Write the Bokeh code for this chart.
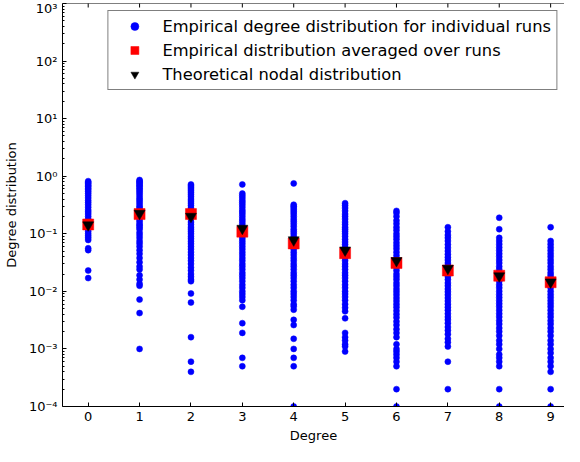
import math
from bokeh.plotting import figure
from bokeh.models import (FixedTicker, CustomJSTickFormatter, Range1d, Legend, LegendItem,
                          ColumnDataSource, Span)
from bokeh.embed import file_html
from bokeh.resources import INLINE

degrees = [0, 1, 2, 3, 4, 5, 6, 7, 8, 9]

runs_deg0 = [0.82, 0.78, 0.74, 0.70, 0.66, 0.62, 0.58, 0.54, 0.50, 0.46, 0.42, 0.38, 0.35,
             0.32, 0.29, 0.26, 0.24, 0.22, 0.20, 0.18, 0.165, 0.15, 0.135, 0.12, 0.11, 0.10,
             0.092, 0.085, 0.078, 0.056, 0.052, 0.023, 0.017]
runs_deg1 = [0.86, 0.82, 0.78, 0.74, 0.70, 0.66, 0.62, 0.58, 0.54, 0.50, 0.46, 0.42, 0.39,
             0.36, 0.33, 0.30, 0.28, 0.26, 0.24, 0.22, 0.20, 0.18, 0.165, 0.15, 0.14, 0.13,
             0.12, 0.105, 0.095, 0.085, 0.075, 0.068, 0.06, 0.052, 0.045, 0.038, 0.032, 0.027,
             0.024, 0.019, 0.016, 0.0135, 0.0125, 0.0072, 0.0042, 0.001]
runs_deg2 = [0.72, 0.68, 0.64, 0.60, 0.56, 0.52, 0.48, 0.44, 0.40, 0.37, 0.34, 0.31, 0.28,
             0.26, 0.24, 0.22, 0.20, 0.18, 0.16, 0.145, 0.13, 0.12, 0.11, 0.10, 0.09, 0.082,
             0.074, 0.067, 0.06, 0.054, 0.048, 0.043, 0.038, 0.034, 0.03, 0.026, 0.023, 0.02,
             0.018, 0.016, 0.015, 0.0092, 0.0064, 0.0016, 0.0006, 0.0004]
runs_deg3 = [0.72, 0.50, 0.46, 0.42, 0.38, 0.35, 0.32, 0.29, 0.26, 0.24, 0.22, 0.20, 0.18,
             0.165, 0.15, 0.135, 0.12, 0.11, 0.10, 0.09, 0.082, 0.074, 0.067, 0.06, 0.054,
             0.048, 0.043, 0.038, 0.034, 0.03, 0.027, 0.024, 0.021, 0.019, 0.017, 0.015,
             0.013, 0.0115, 0.01, 0.009, 0.008, 0.007, 0.0054, 0.0028, 0.0019, 0.0007, 0.0005]
runs_deg4 = [0.75, 0.32, 0.30, 0.28, 0.26, 0.24, 0.22, 0.20, 0.18, 0.165, 0.15, 0.135, 0.12,
             0.11, 0.10, 0.09, 0.082, 0.074, 0.067, 0.06, 0.054, 0.048, 0.043, 0.038, 0.034,
             0.03, 0.027, 0.024, 0.021, 0.019, 0.017, 0.015, 0.013, 0.0115, 0.01, 0.009,
             0.008, 0.007, 0.006, 0.0055, 0.0048, 0.0032, 0.0026, 0.0015, 0.001, 0.0007,
             0.0005, 0.0001]
runs_deg5 = [0.34, 0.31, 0.28, 0.25, 0.22, 0.20, 0.18, 0.16, 0.145, 0.13, 0.12, 0.11, 0.10,
             0.09, 0.08, 0.072, 0.065, 0.058, 0.052, 0.047, 0.042, 0.038, 0.034, 0.03, 0.027,
             0.024, 0.021, 0.019, 0.017, 0.015, 0.013, 0.0115, 0.01, 0.009, 0.008, 0.007,
             0.006, 0.0052, 0.0045, 0.0034, 0.0019, 0.0016, 0.0014, 0.0012, 0.0011, 0.0009]
runs_deg6 = [0.25, 0.23, 0.20, 0.17, 0.15, 0.13, 0.115, 0.10, 0.09, 0.08, 0.07, 0.062, 0.055,
             0.048, 0.042, 0.037, 0.033, 0.029, 0.026, 0.023, 0.02, 0.018, 0.016, 0.014,
             0.0125, 0.011, 0.0098, 0.0087, 0.0077, 0.0068, 0.006, 0.0053, 0.0046, 0.004,
             0.0035, 0.003, 0.0026, 0.0022, 0.0019, 0.0016, 0.0012, 0.001, 0.0009, 0.0008,
             0.0007, 0.0006, 0.0005, 0.0002, 0.0001]
runs_deg7 = [0.13, 0.11, 0.095, 0.085, 0.075, 0.065, 0.057, 0.05, 0.044, 0.039, 0.035, 0.031,
             0.028, 0.025, 0.022, 0.02, 0.018, 0.016, 0.014, 0.0125, 0.011, 0.0098, 0.0087,
             0.0077, 0.0068, 0.006, 0.0053, 0.0047, 0.0041, 0.0036, 0.0032, 0.0028, 0.0024,
             0.0021, 0.0018, 0.0015, 0.0013, 0.0011, 0.0006, 0.0002]
runs_deg8 = [0.19, 0.12, 0.085, 0.075, 0.066, 0.058, 0.051, 0.045, 0.04, 0.035, 0.031, 0.027,
             0.024, 0.021, 0.019, 0.017, 0.015, 0.013, 0.0115, 0.01, 0.0088, 0.0078, 0.0069,
             0.0061, 0.0054, 0.0047, 0.0041, 0.0036, 0.0031, 0.0027, 0.0023, 0.002, 0.0017,
             0.0014, 0.0012, 0.001, 0.0008, 0.0007, 0.0006, 0.0005, 0.0002, 0.0001]
runs_deg9 = [0.13, 0.075, 0.066, 0.058, 0.051, 0.045, 0.04, 0.035, 0.031, 0.027, 0.024,
             0.021, 0.019, 0.017, 0.015, 0.013, 0.0115, 0.01, 0.0088, 0.0078, 0.0069, 0.0061,
             0.0054, 0.0047, 0.0041, 0.0036, 0.0031, 0.0027, 0.0023, 0.002, 0.0017, 0.0014,
             0.0012, 0.001, 0.00085, 0.0007, 0.0006, 0.0005, 0.0004, 0.0002, 0.0001]

averaged_values = [0.145, 0.22, 0.22, 0.109, 0.068, 0.046, 0.031, 0.023, 0.0187, 0.0144]
theoretical_values = [0.142, 0.225, 0.20, 0.124, 0.078, 0.052, 0.034, 0.025, 0.0185, 0.0145]

y_major_ticks = [1e-4, 1e-3, 1e-2, 1e-1, 1e0, 1e1, 1e2, 1e3]

legend_labels = ["Empirical degree distribution for individual runs",
                 "Empirical distribution averaged over runs",
                 "Theoretical nodal distribution"]

all_runs = [runs_deg0, runs_deg1, runs_deg2, runs_deg3, runs_deg4,
            runs_deg5, runs_deg6, runs_deg7, runs_deg8, runs_deg9]
run_x, run_y = [], []
for d, vals in zip(degrees, all_runs):
    run_x += [d] * len(vals)
    run_y += vals

y_minor_ticks = [m * t for t in y_major_ticks[:-1] for m in range(2, 10)]
y_top = y_major_ticks[-1]

FONT = "DejaVu Sans"

p = figure(width=564, height=446, x_range=Range1d(-0.5, 9.27),
           y_range=Range1d(y_major_ticks[0], y_top),
           y_axis_type="log", output_backend="svg", toolbar_location=None,
           min_border_left=55, min_border_right=0, min_border_top=3, min_border_bottom=40)
p.background_fill_color = "white"
p.border_fill_color = "white"
p.outline_line_color = None
p.xgrid.visible = False
p.ygrid.visible = False

sup = CustomJSTickFormatter(code="""
const m = {"-":"\u207b","0":"\u2070","1":"\u00b9","2":"\u00b2","3":"\u00b3","4":"\u2074",
           "5":"\u2075","6":"\u2076","7":"\u2077","8":"\u2078","9":"\u2079"};
const e = Math.round(Math.log10(tick));
return "10" + String(e).split("").map(c => m[c]).join("");
""")

xa = p.xaxis[0]
xa.ticker = FixedTicker(ticks=degrees)
xa.axis_label = "Degree"
ya = p.yaxis[0]
ya.ticker = FixedTicker(ticks=y_major_ticks, minor_ticks=y_minor_ticks)
ya.formatter = sup
ya.axis_label = "Degree distribution"

for ax in (xa, ya):
    ax.axis_line_color = "black"
    ax.major_tick_in = 4
    ax.major_tick_out = 0
    ax.minor_tick_in = 2
    ax.minor_tick_out = 0
    ax.major_tick_line_color = "black"
    ax.minor_tick_line_color = "black"
    ax.major_label_text_font = FONT
    ax.major_label_text_font_size = "13px"
    ax.major_label_text_color = "black"
    ax.axis_label_text_font = FONT
    ax.axis_label_text_font_size = "13px"
    ax.axis_label_text_font_style = "normal"
    ax.axis_label_text_color = "black"
xa.minor_tick_line_color = None
xa.major_label_standoff = 5
xa.axis_label_standoff = 4
ya.major_label_standoff = 5
ya.axis_label_standoff = 7

# top spine with inward ticks (the right spine lies outside the original picture)
p.add_layout(Span(location=y_top, dimension="width", line_color="black", line_width=1))
p.scatter(x=degrees, y=[y_top] * len(degrees), marker="dash", angle=math.pi / 2, size=8,
          line_color="black", line_width=1)

src_runs = ColumnDataSource(dict(x=run_x, y=run_y))
src_avg = ColumnDataSource(dict(x=degrees, y=averaged_values))
src_th = ColumnDataSource(dict(x=degrees, y=theoretical_values))

r_runs = p.scatter("x", "y", source=src_runs, marker="circle", size=6,
                   fill_color="#0000ff", line_color="#0000ff", line_width=0.5)
r_avg = p.scatter("x", "y", source=src_avg, marker="square", size=11,
                  fill_color="#ff0000", line_color="#ff0000", line_width=0.5)
r_th = p.scatter("x", "y", source=src_th, marker="inverted_triangle", size=11,
                 fill_color="black", line_color="black", line_width=0.5)

legend = Legend(items=[LegendItem(label=legend_labels[0], renderers=[r_runs]),
                       LegendItem(label=legend_labels[1], renderers=[r_avg]),
                       LegendItem(label=legend_labels[2], renderers=[r_th])],
                location="top_right")
legend.border_line_color = "black"
legend.border_line_width = 1
legend.background_fill_color = "white"
legend.background_fill_alpha = 1.0
legend.label_text_font = FONT
legend.label_text_font_size = "16.3px"
legend.label_text_color = "black"
legend.glyph_width = 42
legend.glyph_height = 20
legend.label_standoff = 7
legend.label_height = 20
legend.spacing = 4
legend.padding = 5
legend.margin = 7
p.add_layout(legend, "center")

open("out.html", "w").write(file_html(p, INLINE))
